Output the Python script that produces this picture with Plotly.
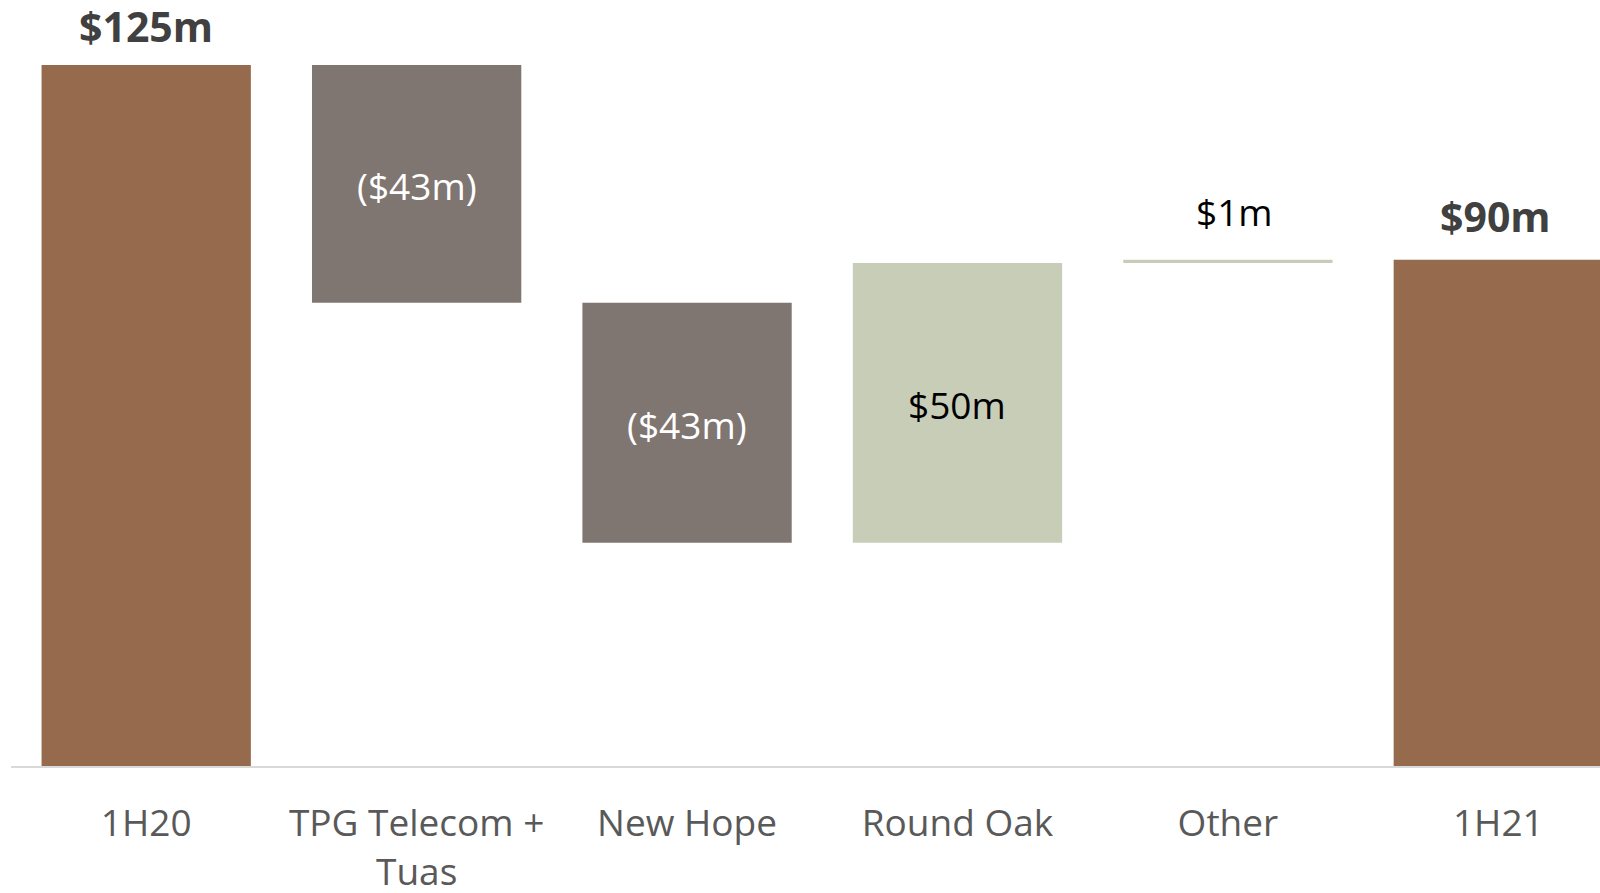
import plotly.graph_objects as go

# ---- data ----
categories = ["1H20", "TPG Telecom +<br>Tuas", "New Hope", "Round Oak", "Other", "1H21"]
measures = ["total", "relative", "relative", "relative", "relative", "total"]
values = [125.0, -42.4, -42.8, 49.9, 0.6, 90.3]
labels = ["$125m", "($43m)", "($43m)", "$50m", "$1m", "$90m"]

# ---- styling ----
COL_TOTAL = "#956A4D"
COL_DOWN = "#7F7672"
COL_UP = "#C8CDB8"
FONT = "Open Sans"

bases, heights, colors = [], [], []
running = 0.0
for m, v in zip(measures, values):
    if m == "total":
        bases.append(0.0)
        heights.append(v)
        colors.append(COL_TOTAL)
        running = v
    else:
        if v < 0:
            bases.append(running + v)
            heights.append(-v)
            colors.append(COL_DOWN)
        else:
            bases.append(running)
            heights.append(v)
            colors.append(COL_UP)
        running += v

fig = go.Figure()
fig.add_trace(go.Bar(
    x=categories, y=heights, base=bases,
    marker=dict(color=colors, line=dict(width=0)),
    hoverinfo="skip", showlegend=False,
))

# label placement: outside for totals and tiny bars, inside otherwise
outside_shift = {0: (0, 9), 4: (7, 21), 5: (-3, 14)}
for i, (c, lab) in enumerate(zip(categories, labels)):
    top = bases[i] + heights[i]
    if i in outside_shift:
        if measures[i] == "total":
            txt = f"<b>{lab}</b>"
            fcol = "#404040"
            fsize = 41
        else:
            txt = lab
            fcol = "#000000"
            fsize = 37
        xs, ys = outside_shift[i]
        fig.add_annotation(x=c, y=top, text=txt, showarrow=False,
                           yanchor="bottom", yshift=ys, xshift=xs,
                           font=dict(family=FONT, size=fsize, color=fcol))
    else:
        fcol = "#FFFFFF" if values[i] < 0 else "#000000"
        fig.add_annotation(x=c, y=bases[i] + heights[i] / 2, text=lab,
                           showarrow=False, yanchor="middle", yshift=-2,
                           font=dict(family=FONT, size=37, color=fcol))

fig.update_layout(
    width=1600, height=893,
    margin=dict(l=11, r=0, t=0, b=127),
    paper_bgcolor="white", plot_bgcolor="white",
    bargap=0.226,
    font=dict(family=FONT),
)
fig.update_xaxes(
    range=[-0.5, 5.376], showgrid=False, zeroline=False,
    showline=True, linecolor="#D9D9D9", linewidth=2,
    ticks="", tickfont=dict(family=FONT, size=37, color="#595959"),
    ticklabelstandoff=24, automargin=False,
)
fig.update_yaxes(range=[0, 136.6], visible=False, showgrid=False,
                 zeroline=False, automargin=False)

fig.write_html("out.html",
               config={"displayModeBar": False},
               post_script="document.body.style.margin='0';document.body.style.overflow='hidden';")
